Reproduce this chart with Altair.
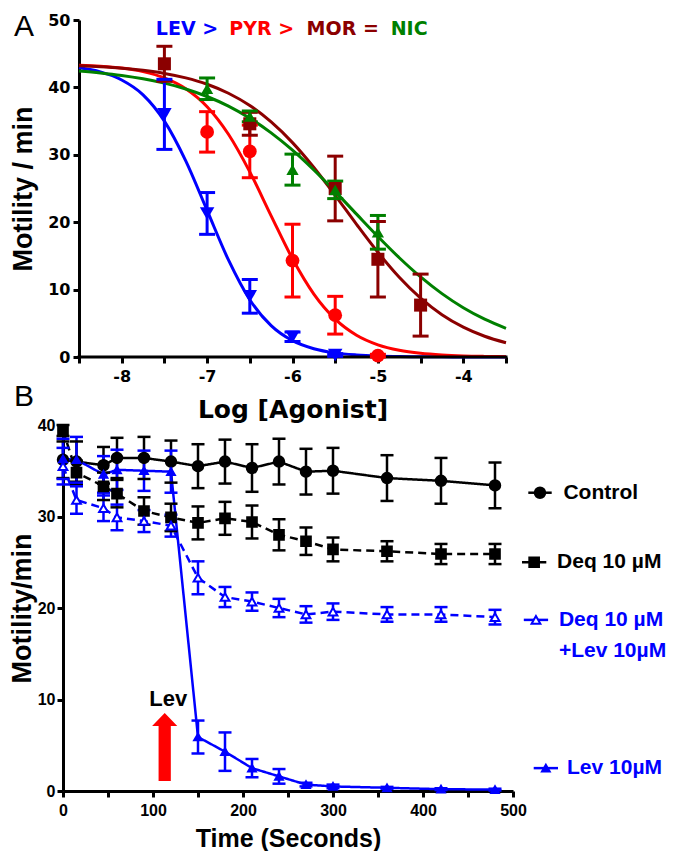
import altair as alt
import pandas as pd

# ---------------- Panel A: concentration-response ----------------
drugs = ["LEV", "PYR", "MOR", "NIC"]
drug_colors = ["#0000ff", "#ff0000", "#8b0000", "#008000"]
drug_shapes = ["triangle-down", "circle", "square", "triangle-up"]
drug_sizes = [210, 150, 130, 170]

curve_x = [-8.5, -8.25, -8.0, -7.75, -7.5, -7.25, -7.0, -6.75, -6.5, -6.25, -6.0,
           -5.75, -5.5, -5.25, -5.0, -4.75, -4.5, -4.25, -4.0, -3.75, -3.5]
lev_curve = [42.9, 42.3, 41.1, 38.9, 35.0, 29.1, 21.75, 14.4, 8.5, 4.65, 2.42,
             1.23, 0.61, 0.31, 0.15, 0.07, 0.04, 0.02, 0.01, 0.0, 0.0]
pyr_curve = [43.3, 43.15, 42.87, 42.34, 41.41, 39.8, 37.14, 33.05, 27.47, 20.95, 14.57,
             9.33, 5.61, 3.23, 1.81, 1.0, 0.55, 0.3, 0.16, 0.09, 0.05]
mor_curve = [43.2, 43.06, 42.85, 42.53, 42.07, 41.41, 40.47, 39.13, 37.31, 34.88, 31.81,
             28.12, 23.99, 19.68, 15.54, 11.83, 8.73, 6.28, 4.43, 3.08, 2.12]
nic_curve = [42.43, 42.15, 41.78, 41.28, 40.63, 39.77, 38.65, 37.22, 35.43, 33.25, 30.68,
             27.74, 24.54, 21.2, 17.88, 14.73, 11.88, 9.4, 7.31, 5.61, 4.26]

lev_x = [-7.5, -7.0, -6.5, -6.0, -5.5]
lev_y = [36.0, 21.3, 9.0, 3.0, 0.3]
lev_err = [5.2, 3.1, 2.5, 0.7, 0.2]

pyr_x = [-7.0, -6.5, -6.0, -5.5, -5.0]
pyr_y = [33.4, 30.5, 14.3, 6.2, 0.2]
pyr_err = [3.0, 3.9, 5.4, 2.8, 0.2]

mor_x = [-7.5, -6.5, -5.5, -5.0, -4.5]
mor_y = [43.5, 34.6, 25.0, 14.5, 7.7]
mor_err = [2.6, 1.7, 4.8, 5.6, 4.6]

nic_x = [-7.0, -6.5, -6.0, -5.5, -5.0]
nic_y = [39.8, 35.7, 27.8, 24.8, 18.5]
nic_err = [1.6, 0.8, 2.3, 1.3, 2.5]

heading_text = ["LEV >", "PYR >", "MOR =", "NIC"]
heading_x = [-7.6, -6.74, -5.835, -4.85]
heading_y = [48.6, 48.6, 48.6, 48.6]

a_axis_start = [-8.5]
a_axis_end = [-3.5]

# ---------------- Panel B: time course ----------------
series = ["Control", "Deq", "DeqLev", "Lev"]
series_colors = ["#000000", "#000000", "#0000ff", "#0000ff"]
series_fill = ["#000000", "#000000", "#ffffff", "#0000ff"]
series_shapes = ["circle", "square", "triangle-up", "triangle-up"]
series_sizes = [110, 60, 110, 140]
series_dash = [[1, 0], [8, 5], [8, 5], [1, 0]]

times = [0, 15, 45, 60, 90, 120, 150, 180, 210, 240, 270, 300, 360, 420, 480]
ctrl_y = [36.2, 36.0, 35.6, 36.4, 36.4, 36.0, 35.5, 36.0, 35.3, 36.0, 34.9, 35.0, 34.2, 33.9, 33.4]
ctrl_err = [2.0, 2.2, 2.0, 2.2, 2.3, 2.3, 2.4, 2.4, 2.6, 2.5, 2.5, 2.5, 2.5, 2.5, 2.5]
deq_y = [39.4, 34.8, 33.3, 32.5, 30.6, 29.9, 29.3, 29.8, 29.4, 28.0, 27.3, 26.4, 26.2, 25.9, 25.9]
deq_err = [0.6, 1.3, 1.5, 1.5, 1.5, 1.5, 1.8, 1.8, 1.8, 1.7, 1.5, 1.3, 1.1, 1.1, 1.1]
deqlev_y = [35.5, 31.8, 30.9, 29.9, 29.5, 29.0, 23.3, 21.2, 20.7, 20.0, 19.3, 19.6, 19.3, 19.3, 19.0]
deqlev_err = [2.0, 1.5, 1.4, 1.4, 1.2, 1.2, 1.8, 1.1, 1.0, 1.0, 0.9, 0.9, 0.8, 0.8, 0.8]
levb_y = [36.3, 36.2, 34.6, 35.1, 35.0, 34.9, 5.9, 4.3, 2.5, 1.6, 0.7, 0.5, 0.35, 0.2, 0.15]
levb_err = [2.2, 2.5, 2.0, 2.2, 2.2, 2.3, 1.8, 2.1, 1.0, 0.8, 0.2, 0.2, 0.1, 0.1, 0.1]

legend_labels = ["Control", "Deq 10 \u00b5M", "Deq 10 \u00b5M", "Lev 10\u00b5M"]
legend_y = [32.6, 25.0, 18.7, 2.5]
legend_sym_x1 = [517, 510, 512, 523]
legend_sym_x2 = [543, 537, 539, 550]
legend_text_x = [556, 549, 551, 560]
legend_extra_label = ["+Lev 10\u00b5M"]
legend_extra_x = [551]
legend_extra_y = [15.3]

arrow_t = [113]
arrow_mid = [4.8]
arrow_label = ["Lev"]
arrow_label_t = [117]
arrow_label_y = [9.3]

# ---------------- tables ----------------
curve_rows = []
for d, ys in zip(drugs, [lev_curve, pyr_curve, mor_curve, nic_curve]):
    for x, y in zip(curve_x, ys):
        curve_rows.append({"drug": d, "x": x, "y": y})
curve_df = pd.DataFrame(curve_rows)

pt_rows = []
for d, xs, ys, es in zip(drugs, [lev_x, pyr_x, mor_x, nic_x], [lev_y, pyr_y, mor_y, nic_y],
                         [lev_err, pyr_err, mor_err, nic_err]):
    for x, y, e in zip(xs, ys, es):
        pt_rows.append({"drug": d, "x": x, "y": y, "lo": max(y - e, 0), "hi": y + e})
pts_df = pd.DataFrame(pt_rows)

head_df = pd.DataFrame({"x": heading_x, "y": heading_y, "t": heading_text, "c": drug_colors})
base_df = pd.DataFrame({"x1": a_axis_start, "x2": a_axis_end, "y": [0]})

b_rows = []
for s, ys, es in zip(series, [ctrl_y, deq_y, deqlev_y, levb_y], [ctrl_err, deq_err, deqlev_err, levb_err]):
    for t, y, e in zip(times, ys, es):
        b_rows.append({"series": s, "t": t, "y": y, "lo": max(y - e, 0), "hi": y + e})
b_df = pd.DataFrame(b_rows)

leg_df = pd.DataFrame({"series": series, "y": legend_y, "x1": legend_sym_x1, "x2": legend_sym_x2,
                       "xm": [(a + b) / 2 for a, b in zip(legend_sym_x1, legend_sym_x2)],
                       "tx": legend_text_x, "label": legend_labels,
                       "c": series_colors})
leg2_df = pd.DataFrame({"tx": legend_extra_x, "y": legend_extra_y, "label": legend_extra_label})
arrow_df = pd.DataFrame({"t": arrow_t, "y": arrow_mid})
arrow_lab_df = pd.DataFrame({"t": arrow_label_t, "y": arrow_label_y, "label": arrow_label})

# ---------------- Panel A chart ----------------
FA = "DejaVu Sans"
FB = "Liberation Sans"

# plot area is 16 px wider on the left; the y axis is moved in by 16 px
A_W = 443
A_SHIFT = 16
xa = alt.Scale(domain=[-8.5 - 5.0 * A_SHIFT / (A_W - A_SHIFT), -3.5], nice=False, zero=False)
ya = alt.Scale(domain=[0, 50], nice=False)
color_a = alt.Scale(domain=drugs, range=drug_colors)

xa_axis = alt.Axis(values=[-8.5 + 0.5 * i for i in range(11)],
                   labelExpr="datum.value % 1 == 0 ? '' + datum.value : ''",
                   title="Log [Agonist]", titleFont=FA, titleFontSize=25, titleFontWeight="bold",
                   labelFont=FA, labelFontSize=16, labelFontWeight="bold", labelFlush=False,
                   labelOverlap=False, tickSize=6, tickWidth=3, domain=False,
                   labelPadding=5, titlePadding=13, titleX=A_SHIFT + (A_W - A_SHIFT) / 2)
ya_axis = alt.Axis(values=[5 * i for i in range(11)],
                   labelExpr="datum.value % 10 == 0 ? '' + datum.value : ''",
                   title="Motility / min", titleFont=FB, titleFontSize=27, titleFontWeight="bold",
                   labelFont=FA, labelFontSize=16, labelFontWeight="bold",
                   labelOverlap=False, tickSize=6, tickWidth=3, domainWidth=3,
                   labelPadding=3, titlePadding=10, offset=-A_SHIFT)

curves = alt.Chart(curve_df).mark_line(strokeWidth=3, interpolate="monotone").encode(
    x=alt.X("x:Q", scale=xa, axis=xa_axis),
    y=alt.Y("y:Q", scale=ya, axis=ya_axis),
    color=alt.Color("drug:N", scale=color_a, legend=None),
    detail="drug:N",
)
baseline_a = alt.Chart(base_df).mark_rule(strokeWidth=3, color="black", strokeCap="square").encode(
    x="x1:Q", x2="x2:Q", y="y:Q")
bars_a = alt.Chart(pts_df).mark_rule(strokeWidth=3).encode(
    x="x:Q", y="lo:Q", y2="hi:Q",
    color=alt.Color("drug:N", scale=color_a, legend=None),
)
cap_lo_a = alt.Chart(pts_df).mark_point(shape="stroke", size=256, strokeWidth=3, opacity=1).encode(
    x="x:Q", y="lo:Q", color=alt.Color("drug:N", scale=color_a, legend=None))
cap_hi_a = alt.Chart(pts_df).mark_point(shape="stroke", size=256, strokeWidth=3, opacity=1).encode(
    x="x:Q", y="hi:Q", color=alt.Color("drug:N", scale=color_a, legend=None))
pts_a = alt.Chart(pts_df).mark_point(filled=True, opacity=1).encode(
    x="x:Q", y="y:Q",
    color=alt.Color("drug:N", scale=color_a, legend=None),
    shape=alt.Shape("drug:N", scale=alt.Scale(domain=drugs, range=drug_shapes), legend=None),
    size=alt.Size("drug:N", scale=alt.Scale(domain=drugs, range=drug_sizes), legend=None),
)
heading = alt.Chart(head_df).mark_text(font=FA, fontSize=19, fontWeight="bold", align="left",
                                        baseline="middle").encode(
    x="x:Q", y="y:Q", text="t:N", color=alt.Color("c:N", scale=None))
letter_a = alt.Chart(pd.DataFrame({"l": ["A"]})).mark_text(
    font=FB, fontSize=30, align="left", baseline="top", color="black").encode(
    x=alt.value(-49), y=alt.value(-8), text="l:N")

chart_a = alt.layer(curves, baseline_a, bars_a, cap_lo_a, cap_hi_a, pts_a, heading, letter_a).properties(
    width=A_W, height=337)

# ---------------- Panel B chart ----------------
xb = alt.Scale(domain=[0, 500], nice=False)
yb = alt.Scale(domain=[0, 40], nice=False)
col_b = alt.Scale(domain=series, range=series_colors)

xb_axis = alt.Axis(values=[50 * i for i in range(11)],
                   labelExpr="datum.value % 100 == 0 ? '' + datum.value : ''",
                   title="Time (Seconds)", titleFont=FB, titleFontSize=25, titleFontWeight="bold",
                   labelFont=FB, labelFontSize=16, labelFontWeight="bold", labelFlush=False,
                   labelOverlap=False, tickSize=6, tickWidth=3, domainWidth=3,
                   labelPadding=5, titlePadding=8)
yb_axis = alt.Axis(values=[0, 10, 20, 30, 40],
                   title="Motility/min", titleFont=FB, titleFontSize=27, titleFontWeight="bold",
                   labelFont=FB, labelFontSize=16, labelFontWeight="bold",
                   labelOverlap=False, tickSize=6, tickWidth=3, domainWidth=3,
                   labelPadding=2, titlePadding=1)

lines_b = alt.Chart(b_df).mark_line(strokeWidth=2.5).encode(
    x=alt.X("t:Q", scale=xb, axis=xb_axis),
    y=alt.Y("y:Q", scale=yb, axis=yb_axis),
    color=alt.Color("series:N", scale=col_b, legend=None),
    strokeDash=alt.StrokeDash("series:N", scale=alt.Scale(domain=series, range=series_dash), legend=None),
    detail="series:N",
)
bars_b = alt.Chart(b_df).mark_rule(strokeWidth=2.5).encode(
    x="t:Q", y="lo:Q", y2="hi:Q", color=alt.Color("series:N", scale=col_b, legend=None))
cap_lo_b = alt.Chart(b_df).mark_point(shape="stroke", size=169, strokeWidth=2.5, opacity=1).encode(
    x="t:Q", y="lo:Q", color=alt.Color("series:N", scale=col_b, legend=None))
cap_hi_b = alt.Chart(b_df).mark_point(shape="stroke", size=169, strokeWidth=2.5, opacity=1).encode(
    x="t:Q", y="hi:Q", color=alt.Color("series:N", scale=col_b, legend=None))
pts_b = alt.Chart(b_df).mark_point(strokeWidth=2, opacity=1, fillOpacity=1).encode(
    x="t:Q", y="y:Q",
    stroke=alt.Stroke("series:N", scale=col_b, legend=None),
    fill=alt.Fill("series:N", scale=alt.Scale(domain=series, range=series_fill), legend=None),
    shape=alt.Shape("series:N", scale=alt.Scale(domain=series, range=series_shapes), legend=None),
    size=alt.Size("series:N", scale=alt.Scale(domain=series, range=series_sizes), legend=None),
)
leg_lines = alt.Chart(leg_df).mark_rule(strokeWidth=2.5).encode(
    x="x1:Q", x2="x2:Q", y="y:Q", color=alt.Color("series:N", scale=col_b, legend=None))
leg_pts = alt.Chart(leg_df).mark_point(strokeWidth=2, opacity=1, fillOpacity=1).encode(
    x="xm:Q", y="y:Q",
    stroke=alt.Stroke("series:N", scale=col_b, legend=None),
    fill=alt.Fill("series:N", scale=alt.Scale(domain=series, range=series_fill), legend=None),
    shape=alt.Shape("series:N", scale=alt.Scale(domain=series, range=series_shapes), legend=None),
    size=alt.Size("series:N", scale=alt.Scale(domain=series, range=series_sizes), legend=None),
)
leg_text = alt.Chart(leg_df).mark_text(font=FB, fontSize=21, fontWeight="bold", align="left",
                                       baseline="middle").encode(
    x="tx:Q", y="y:Q", text="label:N", color=alt.Color("c:N", scale=None))
leg_text2 = alt.Chart(leg2_df).mark_text(font=FB, fontSize=21, fontWeight="bold", align="left",
                                         baseline="middle", color="#0000ff").encode(
    x="tx:Q", y="y:Q", text="label:N")
arrow = alt.Chart(arrow_df).mark_point(
    shape="M0,-1 L0.37,-0.62 L0.18,-0.62 L0.18,1 L-0.18,1 L-0.18,-0.62 L-0.37,-0.62 Z",
    size=4624, filled=True, color="#ff0000", opacity=1).encode(x="t:Q", y="y:Q")
arrow_text = alt.Chart(arrow_lab_df).mark_text(font=FB, fontSize=22, fontWeight="bold",
                                               baseline="alphabetic", color="black").encode(
    x="t:Q", y="y:Q", text="label:N")
letter_b = alt.Chart(pd.DataFrame({"l": ["B"]})).mark_text(
    font=FB, fontSize=30, align="left", baseline="top", color="black").encode(
    x=alt.value(-49), y=alt.value(-43), text="l:N")

chart_b = alt.layer(lines_b, bars_b, cap_lo_b, cap_hi_b, pts_b, leg_lines, leg_pts, leg_text,
                    leg_text2, arrow, arrow_text, letter_b).properties(width=450, height=366)

chart = alt.vconcat(chart_a, chart_b, spacing=-40).resolve_scale(
    color="independent", shape="independent", size="independent",
    fill="independent", stroke="independent", strokeDash="independent"
).properties(
    padding={"left": 0, "top": 4, "right": 0, "bottom": 0}
).configure_view(stroke=None).configure_axis(
    grid=False, domainColor="black", tickColor="black", labelColor="black", titleColor="black"
)

chart.save("out.html", embed_options={"renderer": "svg", "actions": False})
